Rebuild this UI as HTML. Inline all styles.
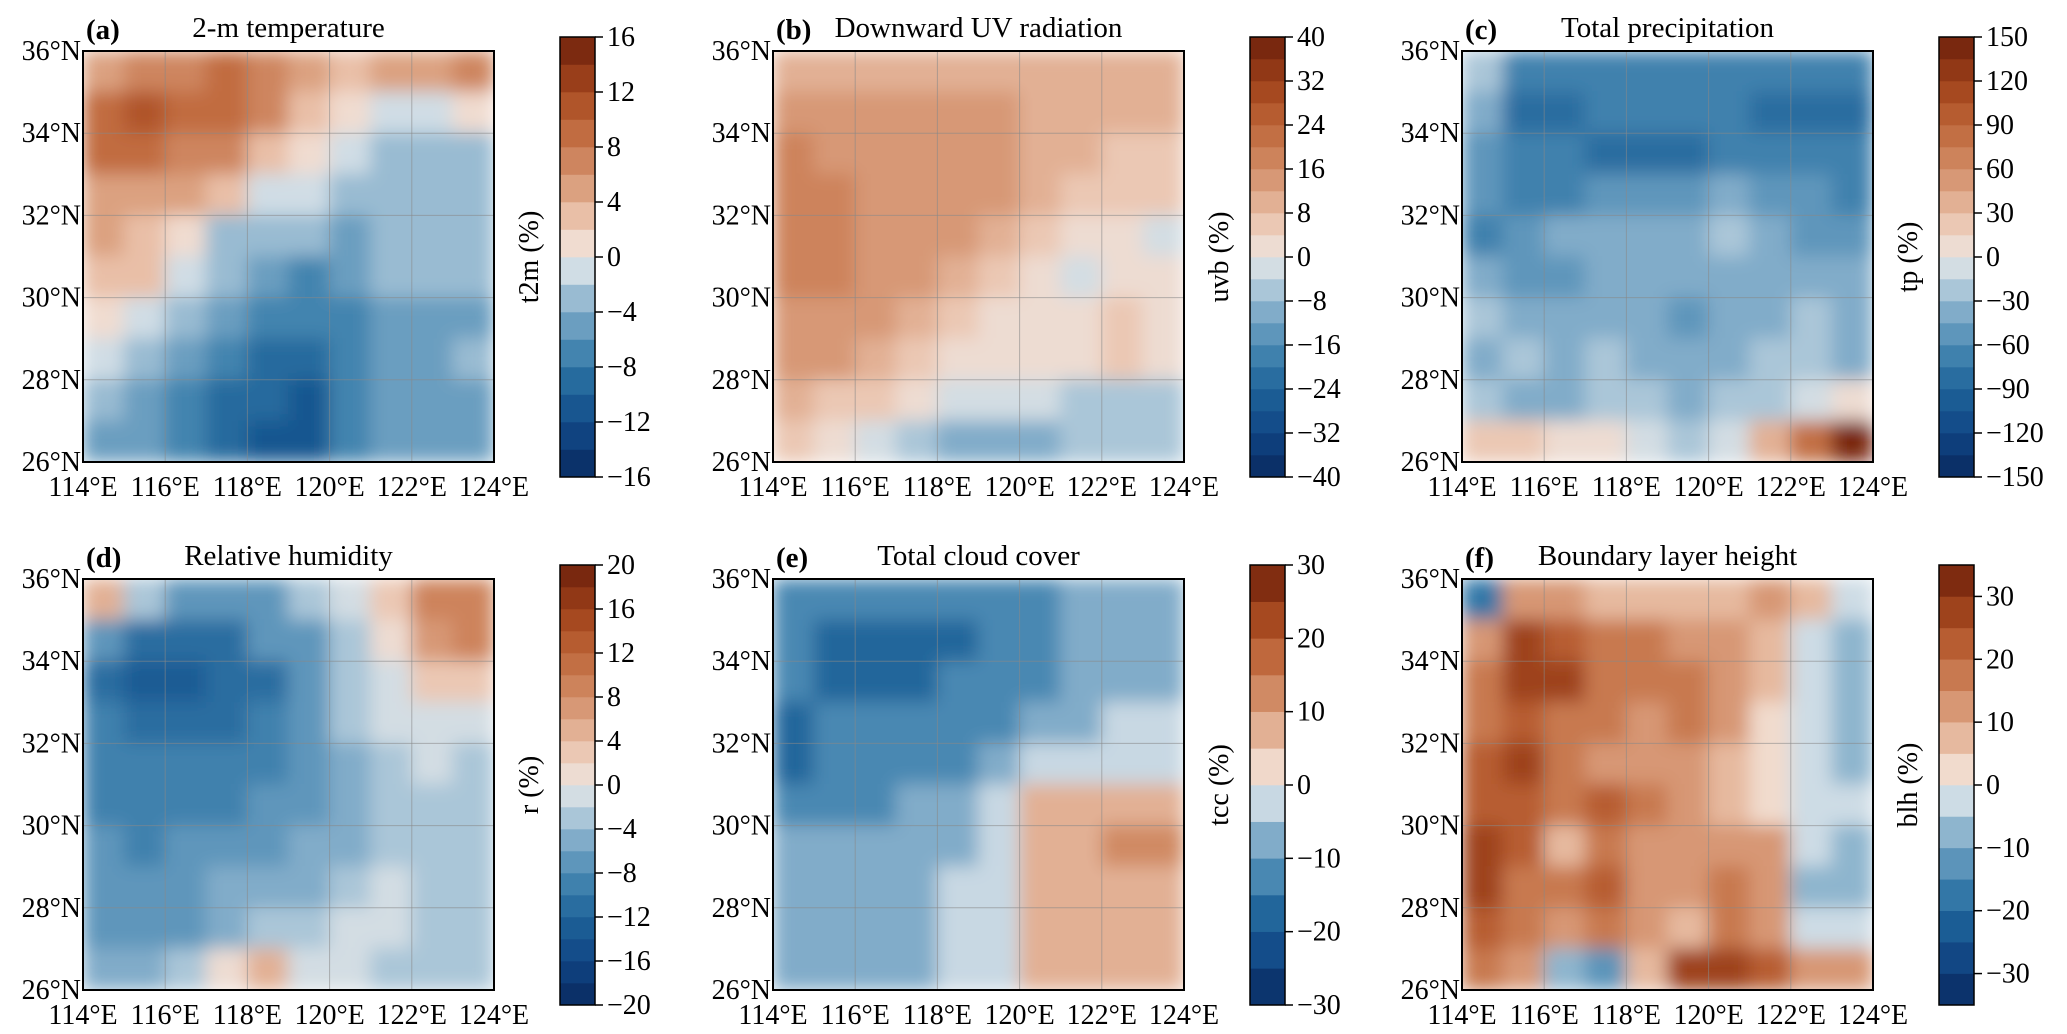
<!DOCTYPE html>
<html><head><meta charset="utf-8">
<style>
html,body{margin:0;padding:0;background:#fff;}
svg{display:block;font-family:"Liberation Serif",serif;}
</style></head>
<body>
<svg id="fig" width="2067" height="1034" viewBox="0 0 2067 1034" xmlns="http://www.w3.org/2000/svg">
<defs>
<filter id="sm" x="0" y="0" width="1" height="1"><feGaussianBlur stdDeviation="9" edgeMode="duplicate"/></filter>
</defs>
</svg>
<script>
// ---- data (rows from 36N to 26N, cols 114E to 124E) ----
const titles = ["2-m temperature","Downward UV radiation","Total precipitation","Relative humidity","Total cloud cover","Boundary layer height"];
const letters = ["(a)","(b)","(c)","(d)","(e)","(f)"];
const cbLabels = ["t2m (%)","uvb (%)","tp (%)","r (%)","tcc (%)","blh (%)"];
const cbMin = [-16,-40,-150,-20,-30,-35];
const cbStep = [2,4,15,2,5,5];
const cbBins = [16,20,20,20,12,14];
const cbTicks = [
 [-16,-12,-8,-4,0,4,8,12,16],
 [-40,-32,-24,-16,-8,0,8,16,24,32,40],
 [-150,-120,-90,-60,-30,0,30,60,90,120,150],
 [-20,-16,-12,-8,-4,0,4,8,12,16,20],
 [-30,-20,-10,0,10,20,30],
 [-30,-20,-10,0,10,20,30]
];
const gridA = [
 [4,6,6,8,6,4,2,4,4,6],
 [8,10,8,8,6,2,0,-2,-2,0],
 [8,8,6,6,2,0,-2,-4,-4,-4],
 [4,4,4,2,-2,-2,-4,-4,-4,-4],
 [4,2,0,-4,-4,-4,-6,-4,-4,-4],
 [2,2,-2,-4,-6,-8,-6,-4,-4,-4],
 [0,-2,-4,-6,-8,-8,-8,-6,-6,-6],
 [-2,-4,-6,-8,-10,-10,-8,-6,-6,-4],
 [-4,-6,-8,-10,-10,-12,-8,-6,-6,-6],
 [-6,-6,-8,-10,-12,-12,-8,-6,-6,-6]];
const gridB = [
 [8,8,8,8,8,8,8,8,8,8],
 [12,12,12,12,12,12,8,8,8,8],
 [16,12,12,12,12,12,8,8,4,4],
 [16,16,12,12,12,12,8,4,4,4],
 [16,16,12,12,12,8,4,0,0,-4],
 [16,16,12,12,8,4,0,-4,0,0],
 [12,12,12,8,4,0,0,0,4,0],
 [12,12,8,4,0,0,0,0,4,0],
 [8,4,4,0,-4,-4,-4,-8,-8,-8],
 [4,0,-4,-8,-12,-12,-12,-8,-8,-8]];
const gridC = [
 [-30,-75,-75,-75,-75,-75,-75,-75,-75,-75],
 [-45,-90,-90,-75,-75,-75,-75,-90,-90,-90],
 [-60,-75,-75,-90,-90,-90,-75,-75,-75,-75],
 [-60,-75,-75,-60,-60,-60,-45,-60,-60,-75],
 [-75,-60,-45,-45,-45,-45,-30,-45,-60,-60],
 [-45,-60,-60,-45,-45,-45,-45,-45,-45,-45],
 [-30,-45,-45,-45,-45,-60,-45,-45,-30,-45],
 [-45,-30,-45,-30,-45,-45,-45,-30,-30,-45],
 [-30,-45,-45,-30,-30,-45,-30,-30,-15,0],
 [15,15,0,0,-15,-30,-15,30,75,135]];
const gridD = [
 [4,-4,-8,-8,-8,-4,-2,2,8,8],
 [-8,-12,-12,-12,-8,-8,-4,0,6,8],
 [-12,-14,-14,-12,-12,-8,-4,-2,2,2],
 [-10,-12,-12,-12,-10,-8,-4,-2,-2,-2],
 [-10,-10,-10,-10,-10,-8,-6,-4,-2,-4],
 [-10,-10,-10,-10,-8,-8,-6,-4,-4,-4],
 [-8,-10,-8,-8,-8,-6,-6,-4,-4,-4],
 [-8,-8,-8,-6,-6,-6,-4,-2,-4,-4],
 [-8,-8,-8,-6,-4,-4,-2,-2,-4,-4],
 [-6,-6,-4,0,4,-2,-2,-4,-4,-4]];
const gridE = [
 [-15,-15,-15,-15,-15,-15,-15,-10,-10,-10],
 [-15,-20,-20,-20,-20,-15,-15,-10,-10,-10],
 [-15,-20,-20,-20,-15,-15,-15,-10,-10,-10],
 [-20,-15,-15,-15,-15,-15,-10,-10,-5,-5],
 [-20,-15,-15,-15,-15,-10,-5,-5,-5,-5],
 [-15,-15,-15,-10,-10,-5,5,5,5,5],
 [-10,-10,-10,-10,-10,-5,5,5,10,10],
 [-10,-10,-10,-10,-5,-5,5,5,5,5],
 [-10,-10,-10,-10,-5,-5,5,5,5,5],
 [-10,-10,-10,-10,-5,-5,5,5,5,5]];
const gridF = [
 [-20,10,10,5,5,5,5,10,5,-5],
 [10,25,20,15,15,10,10,5,-5,-10],
 [15,25,25,15,15,15,10,5,-5,-10],
 [15,20,15,15,10,15,10,0,-5,-10],
 [20,25,15,10,10,10,5,0,-5,-10],
 [20,20,15,20,15,10,5,0,-5,-5],
 [25,20,5,15,10,10,10,10,-5,-10],
 [25,15,15,20,10,10,15,10,-10,-10],
 [20,15,10,15,10,5,15,10,-5,-5],
 [15,10,-10,-15,5,25,25,20,10,10]];
const grids = [gridA,gridB,gridC,gridD,gridE,gridF];
const lonTicks = [114,116,118,120,122,124];
const latTicks = [26,28,30,32,34,36];

// ---- styling ----
const pal = ["#0a2a5e","#0d3b78","#154f8c","#1e6399","#3a7eab","#6399bd","#93b8d0","#cfdde6",
             "#f1dccf","#e8bca3","#d99c7a","#cb7f57","#bd6539","#a94c22","#8e3514","#6c200c"];
function hex(c){return [1,3,5].map(i=>parseInt(c.substr(i,2),16));}
function palAt(t){
  const f=t*(pal.length-1), i=Math.min(pal.length-2,Math.floor(f)), r=f-i;
  const a=hex(pal[i]), b=hex(pal[i+1]);
  return "rgb("+a.map((v,k)=>Math.round(v+(b[k]-v)*r)).join(",")+")";
}
const mapX=[83,773,1462], mapY=[51,579], mapW=411, mapH=411;
const cbX=[560,1250,1939], cbY=[37,565], cbW=35, cbH=440;
const NS="http://www.w3.org/2000/svg";
const svg=document.getElementById("fig");
function mk(tag,attrs,parent){const e=document.createElementNS(NS,tag);for(const k in attrs)e.setAttribute(k,attrs[k]);(parent||svg).appendChild(e);return e;}

for(let p=0;p<6;p++){
  const col=p%3,row=Math.floor(p/3);
  const x0=mapX[col], y0=mapY[row];
  const nb=cbBins[p], mn=cbMin[p], st=cbStep[p], mx=mn+nb*st;
  const colorOf=v=>{let b=Math.floor((v-mn)/st);b=Math.max(0,Math.min(nb-1,b));return palAt((b+0.5)/nb);};
  const sx=lon=>x0+(lon-114)/10*mapW;
  const sy=lat=>y0+(36-lat)/10*mapH;
  const g=mk("g",{});
  
  
  const clipId="clip"+p;
  const cp=mk("clipPath",{id:clipId},g);
  mk("rect",{x:x0,y:y0,width:mapW,height:mapH},cp);
  const field=mk("g",{"clip-path":"url(#"+clipId+")"},g);
  
  
  const inner=mk("g",{filter:"url(#sm)"},field);
  const grid=grids[p];
  for(let r=0;r<grid.length;r++)for(let c=0;c<grid[r].length;c++){
    const cell=mk("rect",{x:sx(114+c)-0.5,y:sy(36-r)-0.5,width:mapW/10+1,height:mapH/10+1,fill:colorOf(grid[r][c])},inner);
    
    
  }
  for(const lon of lonTicks.slice(1,-1)){const l=mk("line",{x1:sx(lon),x2:sx(lon),y1:y0,y2:y0+mapH,stroke:"#888",
    "stroke-width":1,"stroke-opacity":0.6},g);
    }
  for(const lat of latTicks.slice(1,-1)){const l=mk("line",{x1:x0,x2:x0+mapW,y1:sy(lat),y2:sy(lat),stroke:"#888",
    "stroke-width":1,"stroke-opacity":0.6},g);
    }
  const frame=mk("rect",{x:x0,y:y0,width:mapW,height:mapH,fill:"none",stroke:"#000","stroke-width":2},g);
  
  for(const lon of lonTicks){const t=mk("text",{x:sx(lon),y:y0+mapH+34,"font-size":28,"text-anchor":"middle"},g);
    t.textContent=lon+"°E";}
  for(const lat of latTicks){const t=mk("text",{x:x0-2,y:sy(lat)+9,"font-size":28,"text-anchor":"end"},g);
    t.textContent=lat+"°N";}
  const lt=mk("text",{x:x0+3,y:y0-12,"font-size":29,"font-weight":"bold"},g);
  lt.textContent=letters[p];
  const tt=mk("text",{x:x0+mapW/2,y:y0-14,"font-size":29,"text-anchor":"middle"},g);
  tt.textContent=titles[p];
  const cx=cbX[col], cy=cbY[row];
  const cb=mk("g",{},g);
  
  const bh=cbH/nb;
  for(let b=0;b<nb;b++){const r=mk("rect",{x:cx,y:cy+cbH-(b+1)*bh-0.3,width:cbW,height:bh+0.6,fill:palAt((b+0.5)/nb)},cb);
    }
  mk("rect",{x:cx,y:cy,width:cbW,height:cbH,fill:"none",stroke:"#000","stroke-width":1.5},cb);
  for(const tv of cbTicks[p]){const ty=cy+cbH-(tv-mn)/(mx-mn)*cbH;
    mk("line",{x1:cx+cbW,x2:cx+cbW+8,y1:ty,y2:ty,stroke:"#000","stroke-width":1.5},cb);
    const t=mk("text",{x:cx+cbW+12,y:ty+9,"font-size":28},cb);
    t.textContent=(tv<0?"\u2212"+(-tv):String(tv));
    }
  const lx=cx-22, ly=cy+cbH/2;
  const cl=mk("text",{x:lx,y:ly,"font-size":28,"text-anchor":"middle",transform:"rotate(-90 "+lx+" "+ly+")"},cb);
  cl.textContent=cbLabels[p];
}
</script>
</body></html>
